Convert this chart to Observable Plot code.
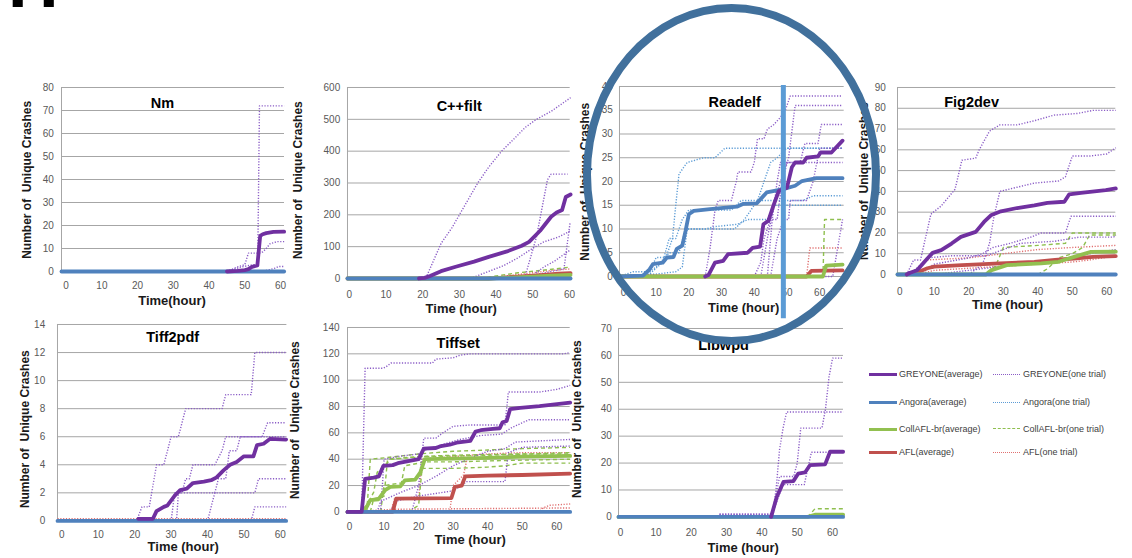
<!DOCTYPE html>
<html><head><meta charset="utf-8">
<script src="https://cdn.jsdelivr.net/npm/d3@7"></script>
<script src="https://cdn.jsdelivr.net/npm/@observablehq/plot@0.6"></script>
<style>
html,body{margin:0;padding:0;background:#fff;}
#root{position:relative;width:1132px;height:558px;overflow:hidden;background:#fff;font-family:"Liberation Sans",Arial,sans-serif;}
.panel{position:absolute;}
.panel svg{display:block;overflow:visible;max-width:none;}
.hmark{position:absolute;left:8px;top:-52px;font:bold 70px/70px "Liberation Sans",Arial,sans-serif;color:#000;}
.ring{position:absolute;left:583px;top:4px;width:297px;height:341px;box-sizing:border-box;border:8px solid #41709c;border-radius:50%;pointer-events:none;}
.leg{position:absolute;font-size:9px;color:#404040;white-space:nowrap;line-height:10px;}
.sw{position:absolute;height:0;width:28px;}
</style></head>
<body><div id="root"></div>
<script>
// ---------- tick labels / text ----------
const xTicksStd = [0, 10, 20, 30, 40, 50, 60];
const Y_LABEL = "Number of\u00a0 Unique Crashes";
const fuzzerNames = ["GREYONE", "Angora", "CollAFL-br", "AFL"];

// ---------- Nm ----------
const nmGreyoneAvg = [[45,0],[48,0.3],[50,0.6],[51,1],[52,2],[53.5,2.6],[54.3,15.5],[55,16.2],[56,16.7],[58,17.2],[61,17.3]];
const nmGreyoneTrials = [
  [[44,0],[47,1],[49,2],[52.5,3],[53.6,3],[54.1,72],[61,72]],
  [[45,0],[48,2],[50,3],[51,8],[54,8],[55,8.5],[56,10],[57,12],[59,13],[61,13]],
  [[52,0],[55,0.3],[56,0.5],[57,0.8],[58.5,1.5],[59.5,2.2],[61,2.2]]
];
const nmAngoraAvg = [[-1.3,0],[61,0]];

// ---------- C++filt ----------
const cppGreyoneAvg = [[19,0],[20.5,2],[22,8],[25,23],[29,37],[34,53],[38,68],[43,85],[47,103],[49,115],[52,150],[55,194],[56.5,207],[58,215],[59,256],[60.3,264]];
const cppGreyoneTrials = [
  [[20,0],[21,5],[25,110],[28,160],[31,220],[35,300],[38,350],[41.5,400],[45,440],[48,475],[51,500],[55,525],[60.3,568]],
  [[46,0],[48,10],[51,130],[54,310],[55,328],[59.5,328]],
  [[33,0],[37.5,20],[42,40],[46,65],[50,95],[53,115],[57,130],[60.3,150]],
  [[45,0],[50,10],[55,22],[58.5,30],[59.3,100],[60.2,178]],
  [[45,0],[50,10],[53,36],[56,55],[59.5,84],[60.3,90]]
];
const cppAflAvg = [[-0.5,0],[38,0],[42,3],[48,7],[53,11],[57,15],[60.3,17]];
const cppAflTrials = [[[-0.5,0],[38,0],[44,10],[50,18],[55,25],[60.3,30]]];
const cppCollAvg = [[-0.5,0],[38,0],[44,3],[50,6],[55,9],[60.3,11]];
const cppCollTrials = [[[-0.5,0],[36,0],[40,8],[46,18],[52,25],[56,30],[60.3,36]]];
const cppAngoraAvg = [[-0.5,0],[60.3,0]];

// ---------- Readelf ----------
const rdGreyoneAvg = [[25,0],[26,0.3],[28,2.9],[30.5,3.3],[32,4.7],[38,5],[39.5,6],[41.8,6.3],[42.8,11],[44.3,11.7],[46,15.2],[47.5,18],[50,18.7],[51.5,23],[52.5,24],[55,24],[56,25],[59.5,25.3],[60.3,26.1],[63.6,26.1],[67,28.6]];
const rdGreyoneTrials = [
  [[25,0],[26.5,6],[28,14],[29,16],[33,16],[34.5,20],[35,22],[39,22],[40,24],[41,29],[43,29],[44,31],[46,32],[48,33.5],[49.5,35],[51,38],[67,38]],
  [[40,0],[42,3],[43,8],[45,12],[47,12],[48.5,20],[50.5,25],[52.5,36],[67,36]],
  [[42,0],[44,8],[46,15],[48,20],[50,24],[54,24],[55.5,28],[59.5,28],[60.5,32],[67,32]],
  [[44,0],[45.5,12],[47,20],[48,24],[67,24]],
  [[45,0],[47,8],[49,12],[50.5,12],[51,16],[56,16],[58,20],[60,27],[67,27]],
  [[60,0],[64,0],[65.5,6],[67,12]]
];
const rdAngoraAvg = [[-1.2,0],[6,0.2],[8,1.5],[9,2.6],[12,2.9],[13.3,4],[15.3,4.1],[16.3,5.8],[18,6.5],[19,9.6],[20,13.1],[21.5,13.8],[26.5,14.2],[34.7,14.7],[36.7,15.3],[40.8,15.4],[43.8,17.7],[48.9,18.4],[52.5,19.1],[54.6,20.1],[59,20.7],[67,20.7]];
const rdAngoraTrials = [
  [[-1.2,0],[3,1],[8,1],[10,4],[13,4],[15,8],[16,15],[17,21.6],[19.5,24],[24.5,25],[28,25],[31,27],[67,27]],
  [[-1.2,0],[7,0.5],[10,2],[14,5],[17,5],[19,10],[25,10],[28,10.5],[35,11],[38,12],[44,12],[46,15],[67,15]],
  [[-1.2,0],[8,0.5],[12,3],[14,8],[16,8],[18,12],[20,14],[33,14],[36,16],[43,16],[55,16],[58,17],[67,17]],
  [[-1.2,0],[10,0.5],[16,1],[18,2],[19.5,10],[34,10],[37,12],[41,16],[43,20],[45,24],[47,25],[50,27],[67,27]]
];
const rdCollAvg = [[-1.2,0],[61,0],[62,2.3],[67,2.5]];
const rdCollTrials = [[[-1.2,0],[61,0],[61.5,12],[67,12]]];
const rdAflAvg = [[-1.2,0],[56,0],[57.5,1.2],[67,1.3]];
const rdAflTrials = [[[-1.2,0],[56,0],[57,6],[67,6]]];

// ---------- Fig2dev ----------
const fgGreyoneAvg = [[2,0],[3,0.8],[5,2],[8,7.7],[9.5,10.4],[12,11.7],[15,14.9],[17.7,18.1],[22,20.5],[24.4,25.3],[26.4,28.5],[29.3,30.4],[34,32],[39,33.3],[42.8,34.5],[47.7,35],[49.1,38.6],[52.5,39.3],[59.7,40.6],[62.6,41.4]];
const fgGreyoneTrials = [
  [[2,0],[4,7],[6,7],[9,29],[12,33],[16,41],[18,55],[22,56],[23,60],[26,69],[29,72],[34,72],[39,74],[44.7,76.7],[51.5,77.5],[56,79],[62.6,79]],
  [[20,0],[24,5],[26,15],[27.3,28],[29,40],[34,42],[39,44],[46,45],[48,47],[50,57],[55,57],[60,58],[62.6,61]],
  [[5,0],[10,5],[20,8],[24,10],[27,13],[32,15],[38,18],[41,20],[48,20],[49.6,28],[62.6,28]],
  [[3,0],[8,8],[15,9],[25,9],[30,12],[35,15],[45,16],[52,18],[62,18],[62.6,19]],
  [[10,0],[20,2],[30,4],[40,6],[50,8],[55,10],[62.6,12]]
];
const fgAflAvg = [[2,0],[5,1],[8,3],[10,3.8],[18,4.5],[29,5.3],[39,6.1],[45,7],[50.5,7.7],[56,8.5],[62.6,8.8]];
const fgAflTrials = [
  [[3,0],[8,7],[20,8],[30,10],[40,12],[50,13],[62.6,14]],
  [[5,0],[10,2],[30,4],[40,5],[50,6],[55,7],[62.6,9]]
];
const fgCollAvg = [[-0.67,0],[25,0],[26.4,2],[31,4.5],[41,5.3],[46,6.1],[50.5,8.5],[55.4,10.9],[62.6,11]];
const fgCollTrials = [
  [[-0.67,0],[26,0],[28,5],[30,13],[40,14],[48,15],[50,20],[62.6,20]],
  [[-0.67,0],[40,0],[43,3],[46,8],[50,10],[53,13],[55,19],[62.6,19]]
];
const fgAngoraAvg = [[-0.67,0],[62.6,0]];

// ---------- Tiff2pdf ----------
const tpGreyoneAvg = [[21,0.15],[25,0.15],[26,0.7],[28,1],[29,1.1],[31,1.8],[32.5,2.2],[34.3,2.3],[36,2.7],[39,2.8],[41,2.9],[42.5,3.1],[44.4,3.6],[46.2,4],[48,4.2],[50,4.6],[52.6,4.6],[53.6,5.4],[55.4,5.5],[57.2,5.85],[61.6,5.8]];
const tpGreyoneTrials = [
  [[20.5,0],[22,1],[24,1],[26,4],[28,4],[30,6],[32,6],[33,7],[34,8],[44,8],[45,9],[52,9],[53,12],[61.6,12]],
  [[30,0],[31,2],[33,2],[34,3],[35,3],[36,4],[42,4],[44,5],[45,6],[55,6],[56.5,7],[61.6,7]],
  [[31.5,0],[32,2],[42,2],[43,3],[45,3],[46,5],[48,5],[49,6],[61.6,6]],
  [[40,0],[41,1],[42,2],[53,2],[54,3],[61.6,3]],
  [[52,0],[53,1],[61.6,1]]
];
const tpAflTrials = [[[-1.2,0.15],[61.6,0.15]]];
const tpAngoraAvg = [[-1.2,0],[61.6,0]];

// ---------- Tiffset ----------
const tsGreyoneAvg = [[-0.6,0],[3.5,0],[4.5,25],[7,26],[8.5,27],[9.8,35],[12.5,35.5],[14,37],[17,38.5],[20,40],[21.5,48],[25,48.5],[26.5,50],[29,51],[31,52.5],[35,54],[36.5,61],[38,62],[41.5,63],[43.5,63.5],[44.3,68],[45.5,69],[46.5,78],[49.4,79],[55,80.3],[63.9,83]];
const tsGreyoneTrials = [
  [[3.5,0],[4.5,109],[9.5,109],[10.5,110],[12,113],[24,113],[25,116],[30,117],[32,119],[35,120],[62,120],[63.9,121]],
  [[18,0],[20,20],[21.5,56],[25,56],[27,60],[30,65],[35,66],[45,66],[46,91],[55,91],[60,93],[63.9,96]],
  [[9,0],[10,40],[14,42],[20,44],[22,47],[28,52],[32,55],[38,58],[44,59],[47,64],[52,70],[63.9,70]],
  [[8,0],[9,8],[15,15],[20,20],[25,27],[30,35],[36,42],[40,46],[45,48],[48,53],[63.9,55]],
  [[12,0],[13,8],[20,12],[25,14],[30,16],[34,23],[45,23],[46,45],[50,49],[63.9,50]]
];
const tsCollAvg = [[-0.6,0],[3.6,0],[5,4],[6,9],[8.4,9.6],[10.3,16.5],[11.8,19],[14.7,19.4],[16,24],[19,24.5],[20.5,30],[21.8,40],[30,40.5],[40,41],[50,42],[63.9,42.5]];
const tsCollTrials = [
  [[5,0],[6,40],[10,41],[20,44],[30,46],[40,47],[50,48],[63.9,49]],
  [[6,0],[7,10],[10,12],[11,40],[20,42],[30,43],[50,44],[63.9,44]],
  [[9,0],[10,20],[15,22],[16,35],[22,38],[30,38],[45,39],[63.9,40]],
  [[17,0],[20,5],[21,33],[30,33],[40,34],[45,35],[50,37],[63.9,37]],
  [[3,0],[5,5],[7,15],[8,30],[12,40],[22,42],[40,43],[63.9,45]]
];
const tsAflAvg = [[-0.6,0],[12.5,0],[13.5,10],[29.5,10.5],[30.5,19],[32.5,20],[33.5,27],[40,27.5],[50,28],[63.9,29]];
const tsAflTrials = [
  [[-0.6,0],[12,0],[13,10],[20,10],[21,40],[30,42],[40,44],[50,45],[63.9,45]],
  [[-0.6,0],[29,0],[30,20],[33,28],[34,40],[45,42],[63.9,43]],
  [[-0.6,0],[13,2],[63.9,3]],
  [[-0.6,0],[55,0],[56,3],[58,5],[63.9,6]]
];
const tsAngoraAvg = [[-0.6,0],[63.9,0]];

// ---------- Libwpd ----------
const lwGreyoneAvg = [[42.6,0],[44.2,7.4],[46.1,13],[48.9,13.3],[50.3,16.1],[52.2,16.5],[53.6,19.2],[57.9,19.5],[59.3,24.2],[63,24.2]];
const lwGreyoneTrials = [
  [[28,1],[43,1],[44,8],[45,15],[49,15],[50,20],[51,33],[57,33],[58,40],[59,52],[60,59],[63,59]],
  [[28,1],[43,1],[44,10],[45,25],[46,33],[47,39],[63,39]],
  [[28,0.5],[43,0.5],[44,5],[46,12],[52,12],[53,18],[54,24],[63,24]]
];
const lwCollAvg = [[-0.6,0],[53,0],[55,0.8],[63,0.8]];
const lwCollTrials = [[[-0.6,0],[53,0],[55,3],[63,3]]];
const lwAngoraAvg = [[-0.6,0],[63,0]];

// ---------- styles ----------
const GRID = "#a6a6a6", TICK = "#595959";
const AVG = {
  greyone: {stroke: "#7030a0", strokeWidth: 3.8},
  angora: {stroke: "#4f81bd", strokeWidth: 3.8},
  coll: {stroke: "#92c050", strokeWidth: 3.8},
  afl: {stroke: "#c0504d", strokeWidth: 3.8}
};
const TRIAL = {
  greyone: {stroke: "#8a5cc6", strokeWidth: 1.4, strokeDasharray: "1.2,1.6"},
  angora: {stroke: "#5b9bd5", strokeWidth: 1.4, strokeDasharray: "1.2,1.6"},
  coll: {stroke: "#8fbf4f", strokeWidth: 1.4, strokeDasharray: "4,3"},
  afl: {stroke: "#e07070", strokeWidth: 1.4, strokeDasharray: "1.2,1.6"}
};

const panels = [
  {title: "Nm", L: 61, R: 284, T: 86.7, B: 270.7, xDomain: [-1.3, 61.1], yMax: 80, yStep: 10, xPad: 10.8, yPad: 7.7,
   titleX: 162, titleY: 103, xLabel: "Time(hour)", xLabX: 171.5, xLabY: 300, yLabX: 27, yLabY: 179,
   s: {greyone: {avg: nmGreyoneAvg, trials: nmGreyoneTrials}, angora: {avg: nmAngoraAvg}, coll: {}, afl: {}}},
  {title: "C++filt", L: 347.3, R: 570, T: 87.3, B: 278.3, xDomain: [-0.5, 60.2], yMax: 600, yStep: 100, xPad: 12.2, yPad: 7.3,
   titleX: 459, titleY: 106, xLabel: "Time (hour)", xLabX: 461, xLabY: 309, yLabX: 298, yLabY: 180,
   s: {greyone: {avg: cppGreyoneAvg, trials: cppGreyoneTrials}, angora: {avg: cppAngoraAvg}, coll: {avg: cppCollAvg, trials: cppCollTrials}, afl: {avg: cppAflAvg, trials: cppAflTrials}}},
  {title: "Readelf", L: 619.3, R: 844, T: 85.7, B: 275.7, xDomain: [-1.2, 67.5], yMax: 40, yStep: 5, xPad: 12.5, yPad: 6.6,
   titleX: 734.5, titleY: 101.7, xLabel: "Time (hour)", xLabX: 743.5, xLabY: 307, yLabX: 585, yLabY: 181,
   s: {greyone: {avg: rdGreyoneAvg, trials: rdGreyoneTrials}, angora: {avg: rdAngoraAvg, trials: rdAngoraTrials}, coll: {avg: rdCollAvg, trials: rdCollTrials}, afl: {avg: rdAflAvg, trials: rdAflTrials}},
   extra: () => [Plot.ruleX([48.9], {y1: -8.9, y2: 40.2, stroke: "#5b9bd5", strokeWidth: 5})]},
  {title: "Fig2dev", L: 896.7, R: 1115, T: 87.3, B: 274.3, xDomain: [-0.67, 62.6], yMax: 90, yStep: 10, xPad: 13.9, yPad: 11.7,
   titleX: 970.8, titleY: 102, xLabel: "Time (hour)", xLabX: 1006.7, xLabY: 305, yLabX: 863, yLabY: 181,
   s: {greyone: {avg: fgGreyoneAvg, trials: fgGreyoneTrials}, angora: {avg: fgAngoraAvg}, coll: {avg: fgCollAvg, trials: fgCollTrials}, afl: {avg: fgAflAvg, trials: fgAflTrials}}},
  {title: "Tiff2pdf", L: 57.3, R: 286.7, T: 324.3, B: 520.7, xDomain: [-1.2, 61.8], yMax: 14, yStep: 2, xPad: 9.8, yPad: 12.3,
   titleX: 172.5, titleY: 337, xLabel: "Time (hour)", xLabX: 183, xLabY: 547, yLabX: 25, yLabY: 429,
   s: {greyone: {avg: tpGreyoneAvg, trials: tpGreyoneTrials}, angora: {avg: tpAngoraAvg}, coll: {}, afl: {trials: tpAflTrials}}},
  {title: "Tiffset", L: 347.3, R: 570, T: 327.3, B: 511.7, xDomain: [-0.6, 63.9], yMax: 140, yStep: 20, xPad: 11.5, yPad: 8,
   titleX: 458, titleY: 343.3, xLabel: "Time (hour)", xLabX: 470, xLabY: 540, yLabX: 295, yLabY: 420,
   s: {greyone: {avg: tsGreyoneAvg, trials: tsGreyoneTrials}, angora: {avg: tsAngoraAvg}, coll: {avg: tsCollAvg, trials: tsCollTrials}, afl: {avg: tsAflAvg, trials: tsAflTrials}}},
  {title: "Libwpd", L: 618.3, R: 843.3, T: 328.3, B: 516.7, xDomain: [-0.6, 63.1], yMax: 70, yStep: 10, xPad: 11.5, yPad: 6.6,
   titleX: 723.3, titleY: 345, xLabel: "Time (hour)", xLabX: 743, xLabY: 548, yLabX: 577.3, yLabY: 419,
   s: {greyone: {avg: lwGreyoneAvg, trials: lwGreyoneTrials}, angora: {avg: lwAngoraAvg}, coll: {avg: lwCollAvg, trials: lwCollTrials}, afl: {}}}
];

const root = document.getElementById("root");

function drawPanel(p) {
  const mL = 75, mR = 12, mT = 26, mB = 50;
  const w = p.R - p.L + mL + mR;
  const h = p.B - p.T + mT + mB;
  const yTicks = d3.range(0, p.yMax + 1e-9, p.yStep);
  const marks = [
    Plot.gridY({ticks: yTicks, stroke: GRID, strokeOpacity: 1, strokeWidth: 1}),
    Plot.ruleX([p.xDomain[0]], {stroke: GRID, strokeWidth: 1}),
    Plot.axisY({ticks: yTicks, tickSize: 0, tickPadding: p.yPad, fontSize: 10, color: TICK, label: null}),
    Plot.axisX({ticks: xTicksStd, tickSize: 0, tickPadding: p.xPad, fontSize: 10, color: TICK, label: null})
  ];
  const order = ["afl", "coll", "angora", "greyone"];
  for (const k of order) for (const tr of (p.s[k].trials || []))
    marks.push(Plot.line(tr, {x: d => d[0], y: d => d[1], strokeLinecap: "butt", ...TRIAL[k]}));
  for (const k of order) if (p.s[k].avg)
    marks.push(Plot.line(p.s[k].avg, {x: d => d[0], y: d => d[1], strokeLinejoin: "round", ...AVG[k]}));
  if (p.extra) marks.push(...p.extra());
  const txt = (s, X, Y, o) => Plot.text([s], {text: d => d, frameAnchor: "top-left", dx: X - p.L, dy: Y - p.T,
    textAnchor: "middle", lineAnchor: "middle", ...o});
  marks.push(txt(p.title, p.titleX, p.titleY, {fontSize: 14.5, fontWeight: "bold", fill: "#000"}));
  marks.push(txt(p.xLabel, p.xLabX, p.xLabY, {fontSize: 13, fontWeight: "bold", fill: "#1a1a1a"}));
  marks.push(txt(Y_LABEL, p.yLabX, p.yLabY, {fontSize: 12, fontWeight: "bold", fill: "#1a1a1a", rotate: -90}));
  const svg = Plot.plot({
    width: w, height: h, marginLeft: mL, marginRight: mR, marginTop: mT, marginBottom: mB,
    x: {domain: p.xDomain}, y: {domain: [0, p.yMax]},
    style: {fontFamily: "Liberation Sans, Arial, sans-serif", background: "transparent", overflow: "visible"},
    marks
  });
  const div = document.createElement("div");
  div.className = "panel";
  div.style.left = (p.L - mL) + "px";
  div.style.top = (p.T - mT) + "px";
  div.appendChild(svg);
  root.appendChild(div);
}
panels.forEach(drawPanel);

// ---------- legend ----------
const legendColorsAvg = ["#7030a0", "#4f81bd", "#92c050", "#c0504d"];
const legendColorsTrial = ["#8a5cc6", "#5b9bd5", "#8fbf4f", "#e07070"];
const legendRowY = [374.3, 402.3, 429, 452.7];
fuzzerNames.forEach((n, i) => {
  const y = legendRowY[i];
  const s1 = document.createElement("div");
  s1.className = "sw";
  s1.style.cssText = `left:869px;top:${y - 1.5}px;border-top:3px solid ${legendColorsAvg[i]};`;
  root.appendChild(s1);
  const t1 = document.createElement("div");
  t1.className = "leg"; t1.textContent = n + "(average)";
  t1.style.left = "899px"; t1.style.top = (y - 5.5) + "px";
  root.appendChild(t1);
  const s2 = document.createElement("div");
  s2.className = "sw";
  s2.style.cssText = `left:993px;top:${y - 0.7}px;width:27px;border-top:1.4px ${i === 2 ? "dashed" : "dotted"} ${legendColorsTrial[i]};`;
  root.appendChild(s2);
  const t2 = document.createElement("div");
  t2.className = "leg"; t2.textContent = n + "(one trial)";
  t2.style.left = "1023px"; t2.style.top = (y - 5.5) + "px";
  root.appendChild(t2);
});

// ---------- annotations ----------
const hm = document.createElement("div"); hm.className = "hmark"; hm.textContent = "H"; root.appendChild(hm);
const ring = document.createElement("div"); ring.className = "ring"; root.appendChild(ring);
</script></body></html>
